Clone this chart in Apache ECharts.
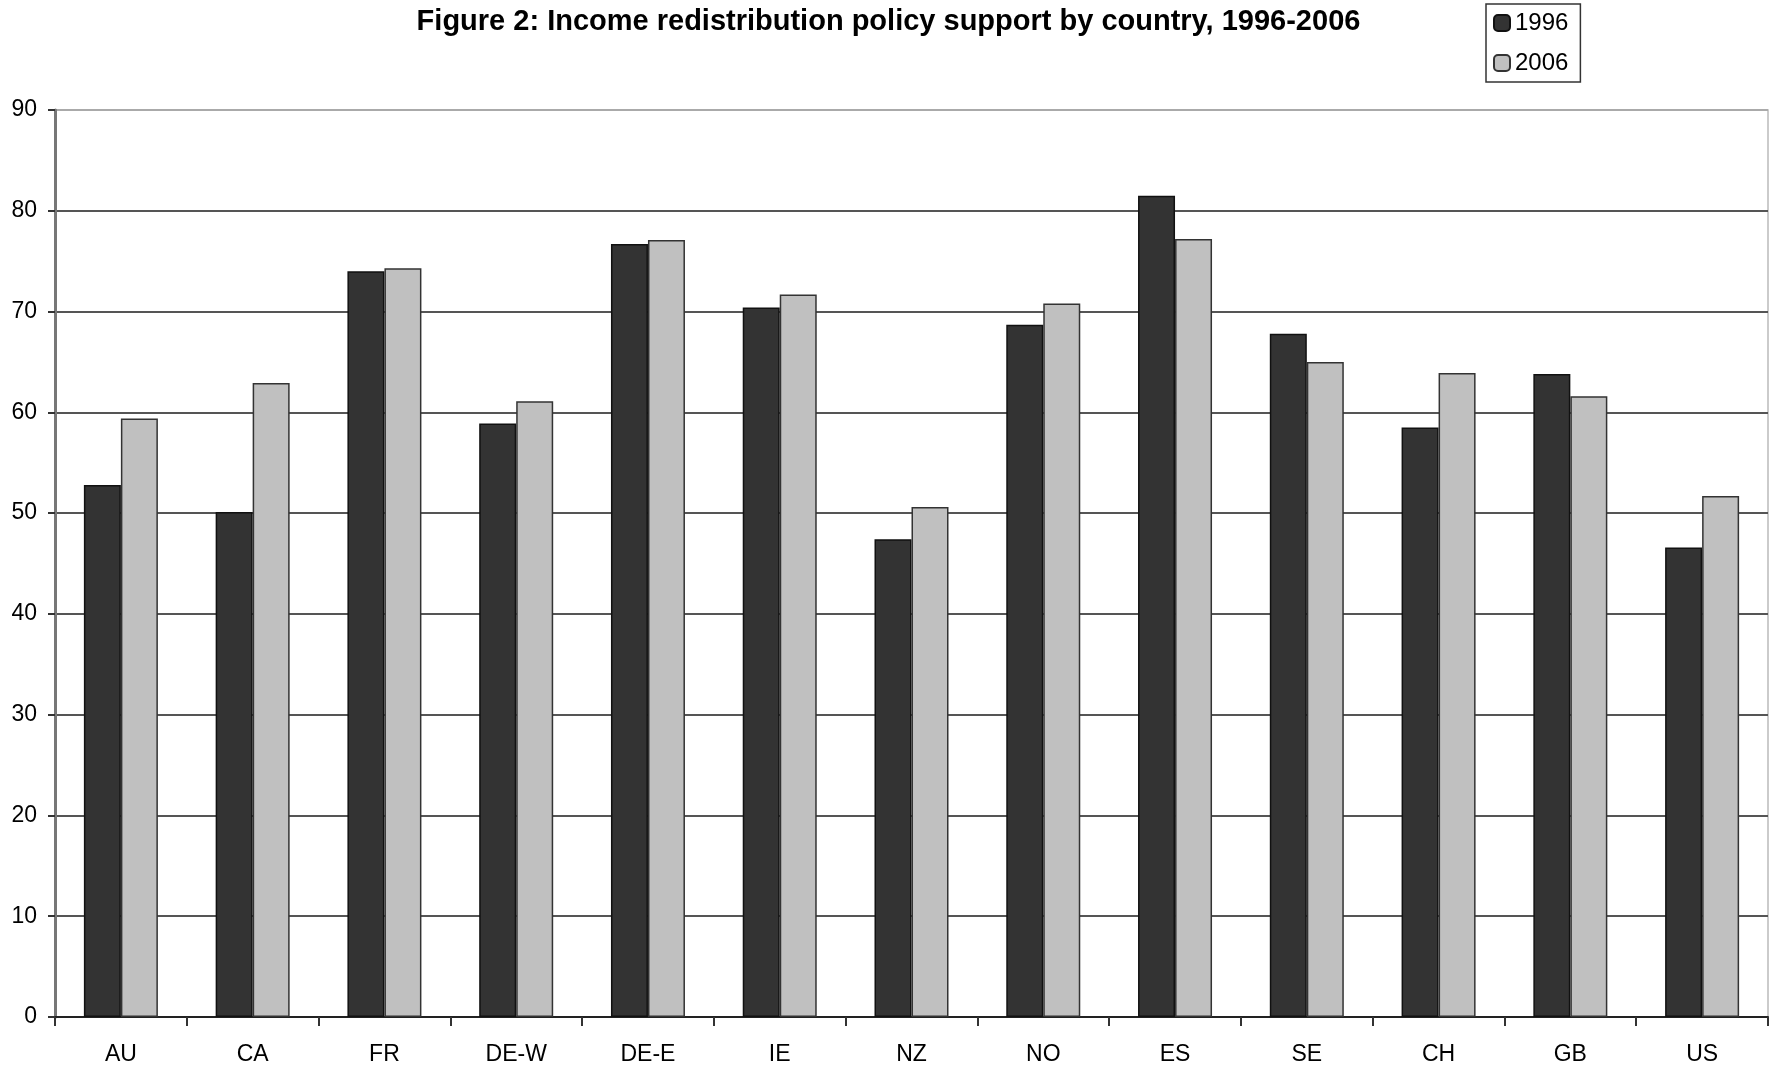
<!DOCTYPE html>
<html>
<head>
<meta charset="utf-8">
<script src="https://cdn.jsdelivr.net/npm/echarts@6/dist/echarts.min.js"></script>
<style>html,body{margin:0;padding:0;background:#fff}#c{width:1777px;height:1067px}</style>
</head>
<body>
<div id="c"></div>
<script>
const categories = ['AU','CA','FR','DE-W','DE-E','IE','NZ','NO','ES','SE','CH','GB','US'];
const values1996 = [52.8, 50.1, 74.0, 58.9, 76.7, 70.4, 47.4, 68.7, 81.5, 67.8, 58.5, 63.8, 46.6];
const values2006 = [59.4, 62.9, 74.3, 61.1, 77.1, 71.7, 50.6, 70.8, 77.2, 65.0, 63.9, 61.6, 51.7];
const seriesNames = ['1996', '2006'];
const titleText = 'Figure 2: Income redistribution policy support by country, 1996-2006';

const chart = echarts.init(document.getElementById('c'));
const font = 'Liberation Sans, Arial, sans-serif';
chart.setOption({
  backgroundColor: '#fff',
  animation: false,
  title: {
    text: titleText, left: 'center', top: 2,
    textStyle: {fontFamily: font, fontWeight: 'bold', fontSize: 29, color: '#000'}
  },
  legend: {
    orient: 'vertical', left: 1486, top: 4,
    width: 95, height: 76,
    padding: [7, 12, 7, 7],
    itemGap: 16, itemWidth: 16, itemHeight: 16,
    borderColor: '#333', borderWidth: 1.5,
    textStyle: {fontFamily: font, fontSize: 24, color: '#000', padding: [0,0,0,0]},
    data: seriesNames
  },
  grid: {left: 55, right: 9, top: 110, bottom: 50, show: true, borderColor: '#bbb', borderWidth: 1.5, backgroundColor: 'transparent'},
  xAxis: {
    type: 'category', data: categories,
    axisLine: {lineStyle: {color: '#222', width: 2}},
    axisTick: {show: true, interval: 0, length: 9, lineStyle: {color: '#333', width: 2}},
    axisLabel: {fontFamily: font, fontSize: 23, color: '#000', margin: 26, interval: 0}
  },
  yAxis: {
    type: 'value', min: 0, max: 90, interval: 10,
    axisLine: {show: true, lineStyle: {color: '#777', width: 3}},
    axisTick: {show: true, length: 7, lineStyle: {color: '#333', width: 2}},
    axisLabel: {fontFamily: font, fontSize: 23, color: '#000', margin: 18},
    splitLine: {show: true, lineStyle: {color: ['#555','#555','#555','#555','#555','#555','#555','#555','#555','#aaa'], width: 2}}
  },
  series: [
    {name: seriesNames[0], type: 'bar', data: values1996, barWidth: 37, barGap: '0%',
     itemStyle: {color: '#333333', borderColor: '#111', borderWidth: 1.5}},
    {name: seriesNames[1], type: 'bar', data: values2006, barWidth: 37, barGap: '0%',
     itemStyle: {color: '#c0c0c0', borderColor: '#333', borderWidth: 1.5}}
  ]
});
</script>
</body>
</html>
